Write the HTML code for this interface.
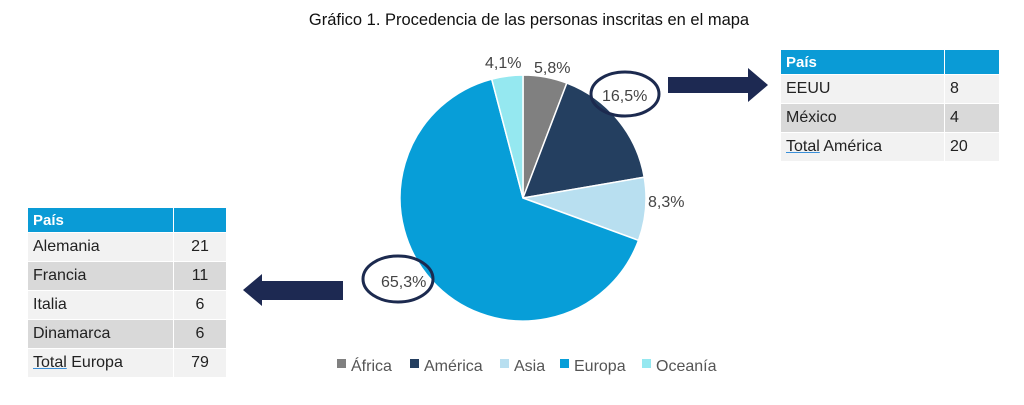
<!DOCTYPE html>
<html><head><meta charset="utf-8"><style>
body{margin:0;width:1024px;height:405px;background:#fff;font-family:"Liberation Sans",Arial,sans-serif;overflow:hidden;position:relative}
table{position:absolute;border-collapse:collapse;font-size:16px;color:#222}
td{height:28px;padding:0 0 0 5px;border:1px solid #fff}
th{background:#0a9bd6;color:#fff;text-align:left;padding:0 0 0 5px;height:24px;font-size:15px;border:1px solid #fff}
tr.a td{background:#f2f2f2} tr.b td{background:#d9d9d9}
td.n{text-align:center;padding:0}
u{text-decoration-color:#3a8fd8}
</style></head><body>
<div style="position:absolute;top:11px;left:306px;width:446px;text-align:center;font-size:16.5px;color:#111;white-space:nowrap">Gráfico 1. Procedencia de las personas inscritas en el mapa</div>
<svg width="1024" height="405" style="position:absolute;left:0;top:0">
<g stroke="#fff" stroke-width="1.5">
<path d="M523,198 L523,75 A123,123 0 0 1 566.8,83.1Z" fill="#808080"/>
<path d="M523,198 L566.8,83.1 A123,123 0 0 1 644.2,177.2Z" fill="#243f60"/>
<path d="M523,198 L644.2,177.2 A123,123 0 0 1 638.5,240.4Z" fill="#b8dff0"/>
<path d="M523,198 L638.5,240.4 A123,123 0 1 1 491.7,79.1Z" fill="#079ed8"/>
<path d="M523,198 L491.7,79.1 A123,123 0 0 1 523,75Z" fill="#95e8f0"/>
</g>
<g font-size="16" fill="#444" font-family="Liberation Sans,Arial,sans-serif">
<text x="485" y="68">4,1%</text><text x="534" y="73">5,8%</text>
<text x="602" y="101">16,5%</text><text x="648" y="207">8,3%</text>
<text x="381" y="287">65,3%</text>
</g>
<ellipse cx="625" cy="94" rx="34" ry="22" fill="none" stroke="#1c2a4f" stroke-width="3"/>
<ellipse cx="398" cy="279" rx="35" ry="23" fill="none" stroke="#1c2a4f" stroke-width="3"/>
<path d="M668,77 H748 V68 L768,85 L748,102 V93 H668Z" fill="#1d2952"/>
<path d="M343,281 H262 V274 L243,290 L262,306 V300 H343Z" fill="#1d2952"/>
<g font-size="16" fill="#555" font-family="Liberation Sans,Arial,sans-serif">
<rect x="337" y="359" width="9" height="9" fill="#808080"/><text x="351" y="371">África</text>
<rect x="410" y="359" width="9" height="9" fill="#243f60"/><text x="424" y="371">América</text>
<rect x="500" y="359" width="9" height="9" fill="#b8dff0"/><text x="514" y="371">Asia</text>
<rect x="560" y="359" width="9" height="9" fill="#079ed8"/><text x="574" y="371">Europa</text>
<rect x="642" y="359" width="9" height="9" fill="#95e8f0"/><text x="656" y="371">Oceanía</text>
</g>
</svg>
<table style="left:27px;top:207px;width:200px">
<tr><th style="width:140px">País</th><th></th></tr>
<tr class="a"><td>Alemania</td><td class="n">21</td></tr>
<tr class="b"><td>Francia</td><td class="n">11</td></tr>
<tr class="a"><td>Italia</td><td class="n">6</td></tr>
<tr class="b"><td>Dinamarca</td><td class="n">6</td></tr>
<tr class="a"><td><u>Total</u> Europa</td><td class="n">79</td></tr>
</table>
<table style="left:780px;top:49px;width:220px">
<tr><th style="width:158px">País</th><th></th></tr>
<tr class="a"><td>EEUU</td><td>8</td></tr>
<tr class="b"><td>México</td><td>4</td></tr>
<tr class="a"><td><u>Total</u> América</td><td>20</td></tr>
</table>
</body></html>
